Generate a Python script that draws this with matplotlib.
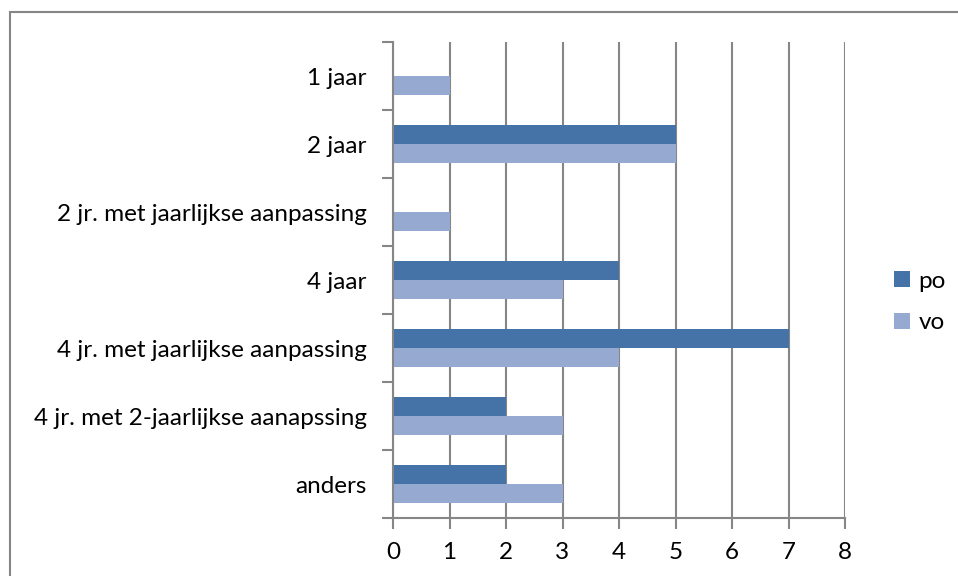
import numpy as np
import matplotlib
matplotlib.use("Agg")
import matplotlib.pyplot as plt
from matplotlib.patches import Rectangle

categories = ["1 jaar", "2 jaar", "2 jr. met jaarlijkse aanpassing", "4 jaar",
              "4 jr. met jaarlijkse aanpassing", "4 jr. met 2-jaarlijkse aanapssing",
              "anders"]
po = [0, 5, 0, 4, 7, 2, 2]
vo = [1, 5, 1, 3, 4, 3, 3]
x_ticks = [0, 1, 2, 3, 4, 5, 6, 7, 8]

plt.rcParams['font.family'] = ['Lato', 'DejaVu Sans']
grey = '#868686'
fs = 17.5

fig = plt.figure(figsize=(9.58, 5.76), dpi=100)
ax = fig.add_axes([393/958, 1-518/576, (845-393)/958, (518-42)/576])

# frame around the whole chart (right and bottom edges fall outside the image)
fig.patches.append(Rectangle((9.5/958, -0.1), 1.2, 1 - 12.5/576 + 0.1,
                             transform=fig.transFigure, fill=False,
                             edgecolor=grey, linewidth=1.5))

y = np.arange(len(categories))
h = 0.28
ax.barh(y - h/2, po, height=h, color='#4572A7', label='po', zorder=3)
ax.barh(y + h/2, vo, height=h, color='#95A9D1', label='vo', zorder=3)

ax.set_ylim(len(categories) - 0.5, -0.5)
ax.set_xlim(0, 8)
ax.set_xticks(x_ticks)
ax.set_yticks(y)
ax.set_yticklabels(categories, fontsize=fs)
ax.set_yticks(np.arange(-0.5, len(categories)), minor=True)
ax.tick_params(axis='y', which='major', length=0, pad=19)
ax.tick_params(axis='y', which='minor', length=8, color=grey, width=1.5)
ax.tick_params(axis='x', length=8, color=grey, width=1.5, labelsize=fs, pad=9)

ax.xaxis.grid(True, color=grey, linewidth=1.5, zorder=0)
for s in ['top', 'right']:
    ax.spines[s].set_visible(False)
for s in ['left', 'bottom']:
    ax.spines[s].set_color(grey)
    ax.spines[s].set_linewidth(1.5)
    ax.spines[s].set_zorder(4)

ax.legend(loc='center left', bbox_to_anchor=(894/958, 1 - 302/576),
          bbox_transform=fig.transFigure, frameon=False, fontsize=fs,
          handlelength=0.65, handleheight=0.65, handletextpad=0.35,
          labelspacing=0.85, borderaxespad=0, borderpad=0)

fig.savefig("out.png", dpi=100)
